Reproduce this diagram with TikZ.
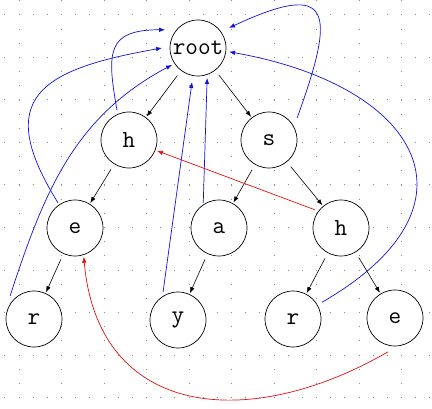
\documentclass[tikz,border=0pt]{standalone}
\usepackage{fontspec}
\usepackage{xcolor}
\usepackage{tikz}
\usetikzlibrary{calc,arrows.meta}
\definecolor{dotc}{HTML}{8A8A8A}
\definecolor{linkc}{HTML}{1010E0}
\definecolor{outc}{HTML}{E01010}
\tikzset{
  st/.style={circle,draw,line width=0.7pt,minimum size=56pt,inner sep=0pt,font=\fontsize{24.5}{26}\selectfont\ttfamily},
  gridln/.style={dotc,line width=1pt,dash pattern=on 1pt off 13.17pt},
  goto/.style={-{Latex[length=6pt,width=4.5pt]},line width=0.6pt,shorten <=6pt,shorten >=1pt},
  fail/.style={-{Latex[length=6pt,width=4.5pt]},line width=0.7pt,linkc},
  outl/.style={-{Latex[length=6pt,width=4.5pt]},line width=0.7pt,outc}
}

\begin{document}
\begin{tikzpicture}[x=1pt,y=1pt]
\useasboundingbox (0,0) rectangle (432,408);
% dotted grid
\foreach \k in {0,...,9} {
  \draw[gridln] (19+42.5*\k,407.67) -- (19+42.5*\k,0);
  \draw[gridln] (4.33,393-42.5*\k) -- (432,393-42.5*\k);
}
% trie
\node[st,fill=white] (root) at (198,360) {root};
\node[st,fill=white] (h) at (129,268) {h};
\node[st,fill=white] (s) at (269,268) {s};
\node[st,fill=white] (he) at (75,180) {e};
\node[st,fill=white] (sa) at (219,180) {a};
\node[st,fill=white] (sh) at (341,180) {h};
\node[st,fill=white] (her) at (34,89) {r};
\node[st,fill=white] (say) at (178,88) {y};
\node[st,fill=white] (shr) at (293,89) {r};
\node[st,fill=white] (she) at (395,90) {e};
\draw[goto] (root) -- (h);
\draw[goto] (root) -- (s);
\draw[goto] (h) -- (he);
\draw[goto] (he) -- (her);
\draw[goto] (s) -- (sa);
\draw[goto] (sa) -- (say);
\draw[goto] (s) -- (sh);
\draw[goto] (sh) -- (shr);
\draw[goto] (sh) -- (she);
% failure links
\draw[fail] ($(h)+(112:32)$) to[out=100,in=180,looseness=1.6] ($(root)+(151:37.6)$);
\draw[fail] ($(he)+(124:30.2)$) to[out=122,in=190,looseness=1.7] ($(root)+(180:36)$);
\draw[fail] ($(her)+(136:33.2)$) to[out=72,in=208] ($(root)+(213:31)$);
\draw[fail] ($(say)+(118:31.8)$) -- ($(root)+(260:34.5)$);
\draw[fail] ($(sa)+(122:29.7)$) -- ($(root)+(287:31.3)$);
\draw[fail] ($(s)+(38:35.6)$) to[out=70,in=25,looseness=2.6] ($(root)+(33:36.9)$);
\draw[fail] ($(shr)+(30:33.6)$) to[out=30,in=-10,looseness=1.85] ($(root)+(-7:31.3)$);
\draw[outl] ($(sh)+(145:31.6)$) -- ($(h)+(-21:30)$);
\draw[outl] ($(she)+(258:34.7)$) to[out=210,in=-85,looseness=1.3] ($(he)+(287:30)$);
\end{tikzpicture}
\end{document}
